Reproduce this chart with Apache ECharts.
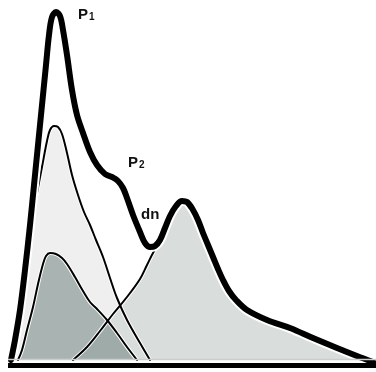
<!DOCTYPE html>
<html>
<head>
<meta charset="utf-8">
<script src="https://cdn.jsdelivr.net/npm/echarts@6/dist/echarts.min.js"></script>
<style>html,body{margin:0;padding:0;background:#fff}#c{width:376px;height:372px}</style>
</head>
<body>
<div id="c"></div>
<script>
// Envelope (measured total wave)
var envX = [11,15,20,25,30,34,38,42,46,49,52,56,60,63,67,72,77,83,90,97,105,112,118,123,127,133,140,145,150,155,160,165,170,176,182,187,193,198,203,208,213,218,223,229,236,247,267,290,313,337,357,373];
var envY = [0,20,50,90,135,175,215,255,295,325,343,348,344,330,305,270,245,227,208,195,186,183,179,172,162,145,128,117,113,114,120,132,144,154,159,158,150,140,127,115,103,91,80,69,60,50,40,32,22,12,4,-2];
// Component 1 (forward wave)
var c1X = [14,18,23,28,33,37,42,47,50,54,58,62,67,72,78,84,90,96,103,110,117,127,140,150];
var c1Y = [0,20,60,108,145,167,193,219,230,234,233,226,207,185,165,148,135,120,103,82,62,40,17,0];
// Component 2 (reflected wave)
var c2X = [18,22,27,33,38,43,46,50,56,62,67,75,83,90,97,107,117,127,137];
var c2Y = [0,10,30,53,76,96,104,107,106,102,96,83,69,58,51,40,27,13,0];
// Component 3 (late wave)
var c3X = [73,87,100,113,127,140,147,153,158,160,165,170,176,182,187,193,198,203,208,213,218,223,229,236,247,267,290,313,337,357,373];
var c3Y = [0,13,29,46,63,81,95,107,115,120,132,144,154,159,158,150,140,127,115,103,91,80,69,60,50,40,32,22,12,4,0];
var labels = ['P', '1', 'P', '2', 'dn'];

function zip(xs, ys){ return xs.map(function(x,i){ return [x, ys[i]]; }); }
var env = zip(envX, envY), c1 = zip(c1X, c1Y), c2 = zip(c2X, c2Y), c3 = zip(c3X, c3Y);

function area(data, color, z){
  return {type:'line', data:data, smooth:0.35, symbol:'none', z:z, silent:true,
    lineStyle:{width:0, color:color}, areaStyle:{color:color, opacity:1}};
}
function outline(data, color, width, z){
  return {type:'line', data:data, smooth:0.35, symbol:'none', z:z, silent:true,
    lineStyle:{width:width, color:color, cap:'round', join:'round'}};
}

var chart = echarts.init(document.getElementById('c'), null, {renderer:'canvas'});
chart.setOption({
  animation:false,
  backgroundColor:'#ffffff',
  grid:{left:0, right:0, top:0, bottom:0},
  xAxis:{type:'value', min:0, max:376, show:false},
  yAxis:{type:'value', min:-12, max:360, show:false},
  series:[
    area(c1, '#efefef', 1),
    area(c3, '#d9dddc', 2),
    area(c2, 'rgba(99,121,117,0.5)', 3),
    outline(c1, '#ffffff', 4, 4),
    outline(c2, '#ffffff', 4, 4),
    outline(c3.slice(0, 9), '#ffffff', 4, 4),
    outline(c1, '#000000', 2, 5),
    outline(c2, '#000000', 2, 5),
    outline(c3.slice(0, 9), '#000000', 2, 5),
    outline(env, '#ffffff', 10, 6),
    outline(env, '#000000', 6, 7),
    {type:'line', data:[[8,0.5],[376,0.5]], symbol:'none', z:8, silent:true,
      lineStyle:{width:1.5, color:'#c9cecd'}},
    {type:'line', data:[[8,-5.5],[376,-5.5]], symbol:'none', z:8, silent:true,
      lineStyle:{width:5, color:'#000000'}}
  ],
  graphic:[
    {type:'text', left:78, top:7, z:100, style:{text:labels[0]+'{s|'+labels[1]+'}', fill:'#111',
      font:'bold 15px "Liberation Sans", Arial, sans-serif',
      rich:{s:{fontSize:10, fontWeight:'bold', fontFamily:'Liberation Sans', padding:[5,0,0,1], fill:'#111'}}}},
    {type:'text', left:128, top:155, z:100, style:{text:labels[2]+'{s|'+labels[3]+'}', fill:'#111',
      font:'bold 15px "Liberation Sans", Arial, sans-serif',
      rich:{s:{fontSize:10, fontWeight:'bold', fontFamily:'Liberation Sans', padding:[5,0,0,1], fill:'#111'}}}},
    {type:'text', left:141, top:207, z:100, style:{text:labels[4], fill:'#111',
      font:'bold 15px "Liberation Sans", Arial, sans-serif'}}
  ]
});
</script>
</body>
</html>
